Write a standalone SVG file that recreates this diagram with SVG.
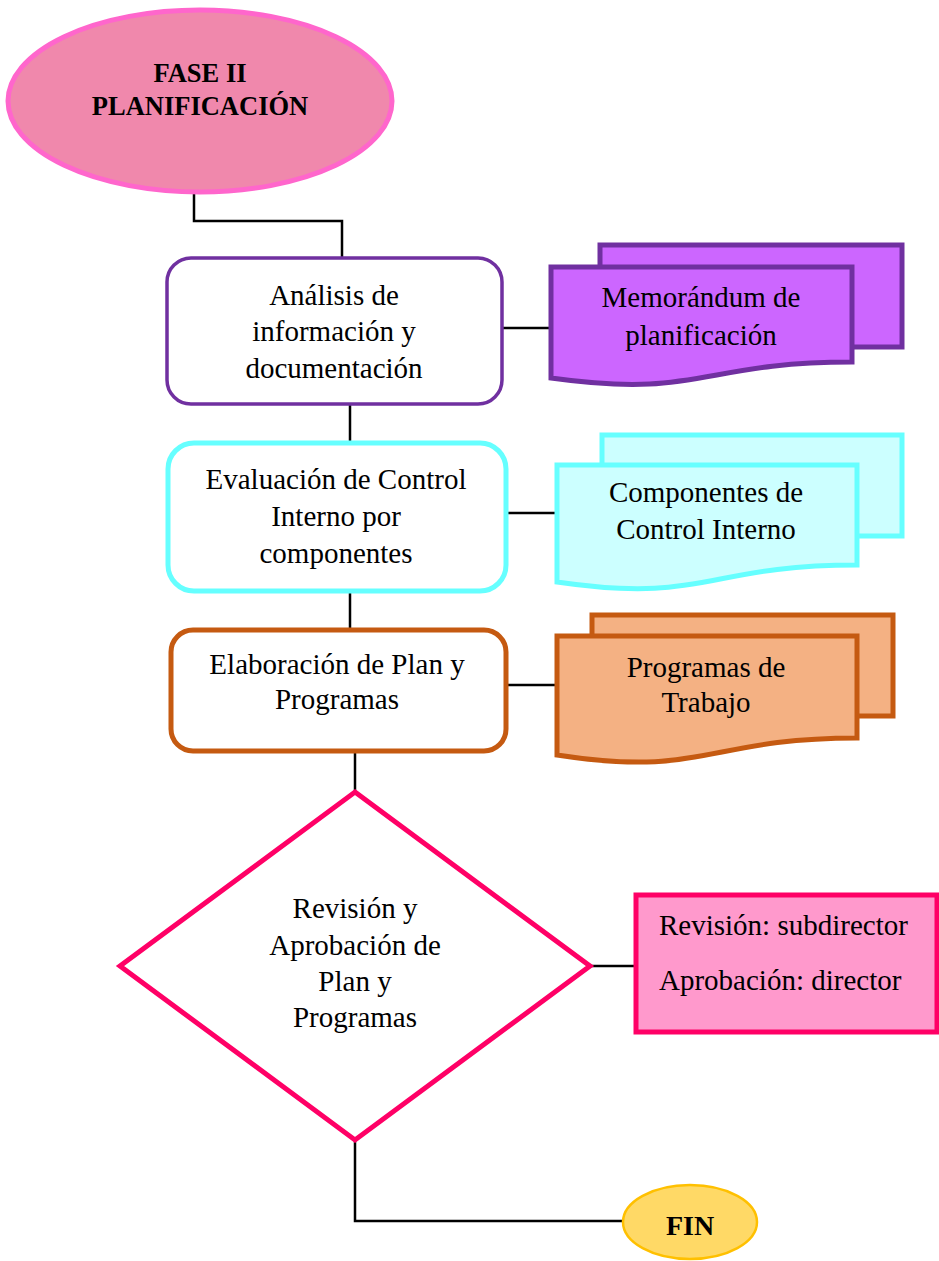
<svg xmlns="http://www.w3.org/2000/svg" width="939" height="1261" viewBox="0 0 939 1261">
  <style>
    .t { font-family: "Liberation Serif", "Times New Roman", serif; font-size: 29px; fill: #000; }
    .c { text-anchor: middle; }
    .b { font-weight: bold; }
    .link { fill: none; stroke: #000; stroke-width: 2.5; }
  </style>

  <!-- connectors -->
  <g id="connectors">
    <polyline class="link" points="194,192 194,221 342,221 342,258"/>
    <line class="link" x1="502" y1="328" x2="551" y2="328"/>
    <line class="link" x1="350" y1="404" x2="350" y2="442"/>
    <line class="link" x1="507" y1="513" x2="557" y2="513"/>
    <line class="link" x1="350" y1="592" x2="350" y2="629"/>
    <line class="link" x1="507" y1="685" x2="557" y2="685"/>
    <line class="link" x1="355" y1="752" x2="355" y2="792"/>
    <line class="link" x1="590" y1="966" x2="636" y2="966"/>
    <polyline class="link" points="355,1140 355,1221 623,1221"/>
  </g>

  <!-- start -->
  <g id="fase">
    <ellipse cx="200" cy="101" rx="192" ry="91" fill="#F088AC" stroke="#FF66CC" stroke-width="5"/>
    <text class="t c b" x="200" y="82" style="font-size:26.5px">FASE II</text>
    <text class="t c b" x="200" y="115" style="font-size:26.5px">PLANIFICACIÓN</text>
  </g>

  <!-- process steps -->
  <g id="analisis">
    <rect x="167" y="258" width="335" height="146" rx="24" fill="#fff" stroke="#7030A0" stroke-width="3.5"/>
    <text class="t c" x="334" y="305">Análisis de</text>
    <text class="t c" x="334" y="341">información y</text>
    <text class="t c" x="334" y="378">documentación</text>
  </g>

  <g id="evaluacion">
    <rect x="168" y="443" width="338" height="148" rx="26" fill="#fff" stroke="#66FFFF" stroke-width="5"/>
    <text class="t c" x="336" y="489">Evaluación de Control</text>
    <text class="t c" x="336" y="526">Interno por</text>
    <text class="t c" x="336" y="563">componentes</text>
  </g>

  <g id="elaboracion">
    <rect x="171" y="630" width="335" height="121" rx="22" fill="#fff" stroke="#C55A11" stroke-width="5"/>
    <text class="t c" x="337" y="674">Elaboración de Plan y</text>
    <text class="t c" x="337" y="709">Programas</text>
  </g>

  <!-- documents -->
  <g id="memorandum">
    <rect x="600" y="245" width="302" height="102" fill="#CC66FF" stroke="#7030A0" stroke-width="5"/>
    <path d="M551,267 H852 V362 C701,362 701,399 551,378 Z" fill="#CC66FF" stroke="#7030A0" stroke-width="5"/>
    <text class="t c" x="701" y="307">Memorándum de</text>
    <text class="t c" x="701" y="345">planificación</text>
  </g>

  <g id="componentes">
    <rect x="602" y="435" width="300" height="101" fill="#CCFFFF" stroke="#66FFFF" stroke-width="5"/>
    <path d="M557,465 H857 V565 C706,565 706,604 557,582 Z" fill="#CCFFFF" stroke="#66FFFF" stroke-width="5"/>
    <text class="t c" x="706" y="502">Componentes de</text>
    <text class="t c" x="706" y="539">Control Interno</text>
  </g>

  <g id="programas">
    <rect x="592" y="615" width="301" height="101" fill="#F4B183" stroke="#C55A11" stroke-width="5"/>
    <path d="M557,636 H857 V738 C706,738 706,778 557,755 Z" fill="#F4B183" stroke="#C55A11" stroke-width="5"/>
    <text class="t c" x="706" y="677">Programas de</text>
    <text class="t c" x="706" y="712">Trabajo</text>
  </g>

  <!-- decision -->
  <g id="revision">
    <polygon points="355,792 590,966 355,1140 120,966" fill="#fff" stroke="#FF0066" stroke-width="5"/>
    <text class="t c" x="355" y="918">Revisión y</text>
    <text class="t c" x="355" y="955">Aprobación de</text>
    <text class="t c" x="355" y="991">Plan y</text>
    <text class="t c" x="355" y="1027">Programas</text>
  </g>

  <g id="responsables">
    <rect x="636" y="895" width="301" height="137" fill="#FF99CC" stroke="#FF0066" stroke-width="5"/>
    <text class="t" x="659" y="935">Revisión: subdirector</text>
    <text class="t" x="659" y="990">Aprobación: director</text>
  </g>

  <!-- end -->
  <g id="fin">
    <ellipse cx="690" cy="1222" rx="67" ry="37" fill="#FFD966" stroke="#FFC000" stroke-width="2.5"/>
    <text class="t c b" x="690" y="1235" style="font-size:28px">FIN</text>
  </g>
</svg>
